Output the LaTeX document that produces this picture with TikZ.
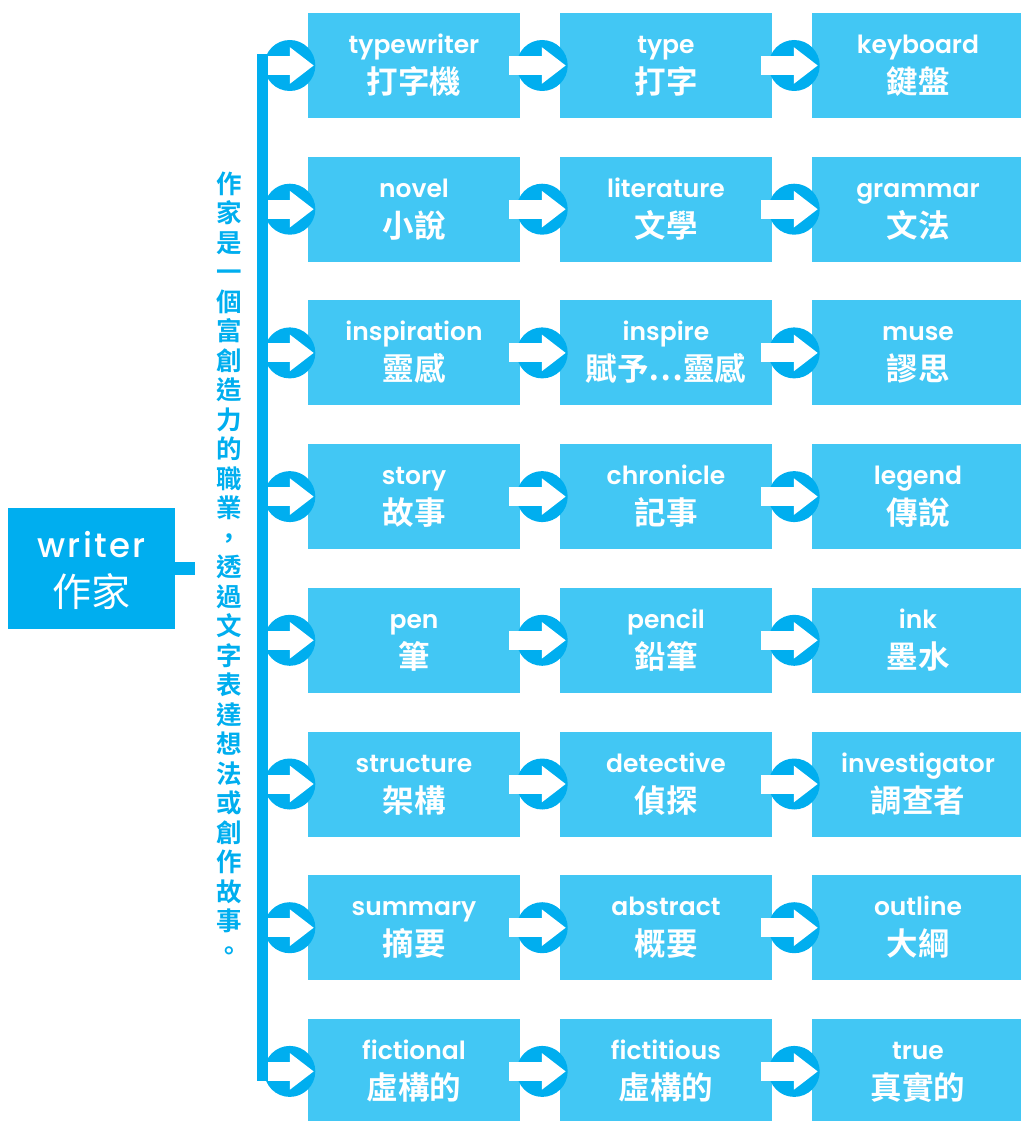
\documentclass[tikz,border=0pt]{standalone}
\usepackage{fontspec}
\usetikzlibrary{arrows.meta,calc}
\newfontfamily\cjk{Noto Sans CJK TC}[BoldFont={Noto Sans CJK TC Bold}]
\newfontfamily\lat{Poppins SemiBold}
\newfontfamily\latw{Poppins Medium}[LetterSpace=7]
\definecolor{cyanD}{HTML}{00AEEF}
\definecolor{cyanL}{HTML}{42C7F4}
\newcommand\enline[1]{{\lat\fontsize{25}{40}\selectfont\rule{0pt}{24pt}#1}}
\newcommand\zhline[1]{{\cjk\bfseries\fontsize{31.5}{40}\selectfont\rule[-8pt]{0pt}{8pt}#1}}
\begin{document}
\begin{tikzpicture}[x=1pt,y=-1pt,
  wbox/.style={fill=cyanL, minimum width=212pt, minimum height=105pt, inner sep=0pt, align=center, text=white, font=\fontsize{25}{40}\selectfont},
  wr/.style={fill=cyanD, minimum width=167pt, minimum height=121pt, inner sep=0pt, align=center, text=white, font=\fontsize{32}{49}\selectfont},
  dot/.style={circle, fill=cyanD, minimum size=51pt, inner sep=0pt},
  warrow/.style={draw=white, line width=19pt, -{Triangle[length=24pt,width=35pt]}},
  barline/.style={draw=cyanD, line width=11pt},
  stub/.style={draw=cyanD, line width=13pt},
  vtext/.style={anchor=north, align=center, inner sep=0pt, text=cyanD, font=\cjk\bfseries\fontsize{25.5}{29.5}\selectfont}
]
\useasboundingbox (0,0) rectangle (1020,1121);
\foreach \r/\a/\b/\c/\d/\e/\f in {
  1/typewriter/打字機/type/打字/keyboard/鍵盤,
  2/novel/小說/literature/文學/grammar/文法,
  3/inspiration/靈感/inspire/賦予…靈感/muse/謬思,
  4/story/故事/chronicle/記事/legend/傳說,
  5/pen/筆/pencil/鉛筆/ink/墨水,
  6/structure/架構/detective/偵探/investigator/調查者,
  7/summary/摘要/abstract/概要/outline/大綱,
  8/fictional/虛構的/fictitious/虛構的/true/真實的}{
  \pgfmathsetmacro\yy{65.5+143.7*(\r-1)}
  \node[wbox] (b\r1) at (414,\yy) {\enline{\a}\\\zhline{\b}};
  \node[wbox] (b\r2) at (666,\yy) {\enline{\c}\\\zhline{\d}};
  \node[wbox] (b\r3) at (918,\yy) {\enline{\e}\\\zhline{\f}};
  \node[dot] (c\r0) at ($(b\r1.west)+(-18,0)$) {};
  \node[dot] (c\r1) at ($(b\r1.east)+(22,0)$) {};
  \node[dot] (c\r2) at ($(b\r2.east)+(22,0)$) {};
}
\coordinate (barT) at (262.5,54);
\coordinate (barB) at (262.5,1081);
\coordinate (barR) at (268,0);
\draw[barline] (barT) -- (barB);
\foreach \r in {1,...,8}{
  \draw[warrow] (b\r1.west -| barR) -- ([xshift=6pt]b\r1.west);
  \draw[warrow] ([xshift=-11pt]b\r1.east) -- ([xshift=6pt]b\r2.west);
  \draw[warrow] ([xshift=-11pt]b\r2.east) -- ([xshift=6pt]b\r3.west);
}
\node[wr] (w) at (91.5,568.5) {{\latw\fontsize{34}{49}\selectfont\rule{0pt}{34pt}writer}\\{\cjk\fontsize{39}{49}\selectfont\rule[-8pt]{0pt}{8pt}作家}};
\coordinate (stubE) at (195,568.5);
\draw[stub] (w.east) -- (stubE);
\node[vtext] (vt) at (229,169) {\rule{0pt}{24pt}作\\家\\是\\一\\個\\富\\創\\造\\力\\的\\職\\業\\，\\透\\過\\文\\字\\表\\達\\想\\法\\或\\創\\作\\故\\事\\。};
\end{tikzpicture}
\end{document}
